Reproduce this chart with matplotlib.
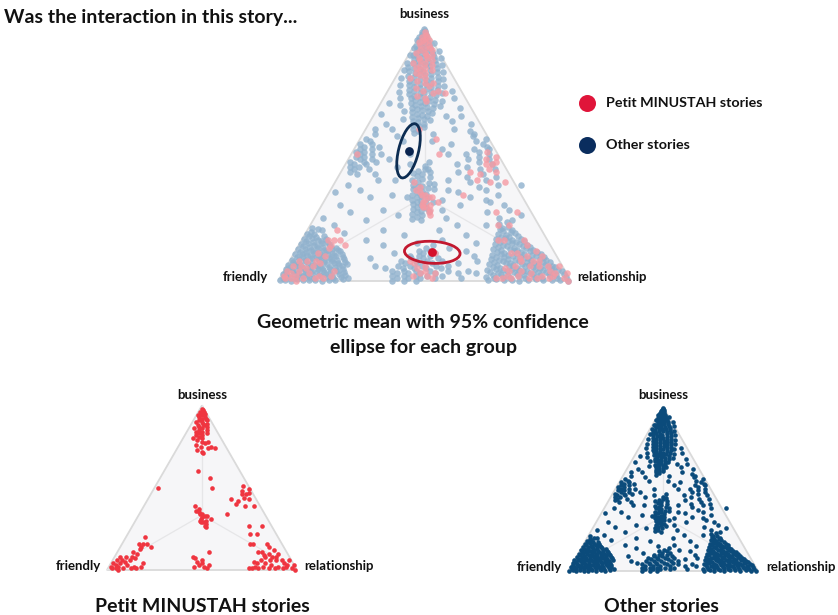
import numpy as np
import matplotlib.pyplot as plt
from matplotlib.patches import Polygon, Ellipse

# ---------------- data: compositions in %, (business, relationship); friendly = 100 - b - r
petit_top = [(98,1),(97,2),(96,1),(96,3),(95,2),(95,4),(94,3),(94,1),(93,5),(93,2),(92,4),(92,6),
             (91,3),(91,7),(90,5),(90,2),(89,6),(89,8),(88,4),(88,7),(87,5),(87,9),(86,3),(86,7),
             (85,6),(85,10),(84,5),(84,8),(83,7),(83,11),(82,6),(82,9),(81,8),(80,5),(80,10),(79,8),
             (78,11),(77,13),(76,9),(75,12),(74,16),(73,11),(72,14),(71,15),(74,20),(75,17),(78,14)]
petit_mid = [(60,18),(56,26),(50,30),(50,2)]
petit_centre = [(39,27),(36,29),(35,31),(34,32),(32,34),(31,34),(33,35),(30,37),(29,36),(28,38),
                (27,38),(30,34),(34,33),(37,30),(33,36),(29,35),(26,39),(31,39)]
petit_right = [(51,46),(49,50),(48,47),(46,50),(44,50),(43,53),(43,44),(42,48),(40,48),(39,58),
               (34,46),(27,61),(27,68),(22,64),(22,68),(16,67),(16,69),(47,51),(46,48),(39,53)]
petit_bottom_mid = [(7,43),(5,45),(4,48),(2,50),(3,52),(11,48),(2,45),(3,47),(6,47),(1,52),(8,41)]
petit_friendly = [(20,10),(16,11),(14,16),(13,11),(10,11),(11,8),(8,9),(8,6),(8,3),(6,2),(4,1),(2,1),
                  (4,5),(3,9),(2,13),(1,15),(2,17),(1,8),(1,12),(1,4),(1,2),(2,5),(5,7),(6,5),(16,9),
                  (16,13),(14,11),(7,11),(6,9),(4,17),(0,6),(3,3)]
petit_relationship = [(11,76),(10,80),(8,83),(8,79),(6,86),(6,89),(2,89),(2,93),(1,97),(0,99),(2,77),
                      (1,79),(1,76),(1,74),(2,81),(1,85),(3,85),(1,88),(1,92),(4,81),(6,83),(8,85),
                      (10,85),(12,82),(14,78),(16,76),(4,91),(3,93),(4,77),(6,78),(9,78),(6,93),(3,97),
                      (5,75),(11,74)]

other_top = [(99.2,0.3),(98.5,0.9),(98.1,0.2),(97.6,1.5),(97.2,0.6),(96.8,2.1),(96.3,1.1),(96.0,0.2),
    (95.7,2.8),(95.4,1.6),(95.0,3.4),(94.6,0.8),(94.3,2.4),(94.0,4.1),(93.6,1.7),(93.3,3.3),(92.9,5.0),
    (92.7,0.9),(92.3,2.6),(92.0,4.4),(91.7,6.1),(91.4,1.8),(91.0,3.5),(90.8,5.3),(90.4,7.2),(90.1,2.4),
    (89.8,4.2),(89.5,8.1),(89.2,6.0),(88.9,1.5),(88.6,3.3),(88.3,9.0),(88.0,5.1),(87.7,7.4),(87.4,2.6),
    (87.1,10.2),(86.8,4.4),(86.5,6.3),(86.2,8.5),(85.9,3.1),(85.6,11.0),(85.3,5.2),(85.0,7.6),(84.7,9.5),
    (84.4,2.3),(84.1,12.1),(83.8,4.6),(83.5,6.8),(83.2,10.4),(82.9,8.2),(82.6,3.5),(82.3,13.0),(82.0,5.7),
    (81.7,11.3),(81.4,7.5),(81.1,9.6),(80.8,4.1),(80.5,14.2),(80.2,6.4),(79.9,12.4),(79.6,8.8),(79.3,10.7),
    (79.0,5.2),(78.7,15.1),(78.4,7.1),(78.1,13.3),(77.8,9.4),(77.5,11.6),(77.2,6.0),(76.9,16.0),(76.6,8.2),
    (76.3,14.0),(76.0,10.3),(75.7,12.5),(75.4,7.0),(75.1,16.8),(74.8,9.1),(74.5,14.9),(74.2,11.2),
    (73.9,13.0),(73.6,8.0),(73.3,17.4),(73.0,10.0),(72.7,15.5),(72.4,12.2),(72.1,9.3),(71.8,14.1),
    (71.5,18.0),(71.2,11.0),(70.9,16.2),(70.6,13.1),(70.3,10.2),(70.0,15.0),(69.6,18.6),(69.3,12.0),
    (69.0,14.3),(68.6,16.7),(68.3,11.6),(68.0,19.0),(67.6,13.6),(67.3,15.4),(67.0,17.6),(66.6,12.5),
    (66.2,19.4),(65.8,14.5),(65.4,16.3),(65.0,18.4),(64.6,13.3),(64.2,15.8),(63.8,17.9),(63.4,20.1),
    (63.0,14.6),(62.5,16.7),(62.0,18.9),(61.5,15.4),(61.0,17.5),(60.5,19.6),(60.0,16.2),(59.3,18.0),
    (58.5,17.0),(93.8,6.3),(90.6,9.8),(87.9,11.8),(85.2,13.4),(82.5,15.0),(79.8,16.5),(77.0,18.0),
    (74.0,19.0),(71.0,20.5),(68.8,21.0),(94.8,0.1),(91.9,0.3),(89.0,0.6),(86.0,1.0),(83.0,1.4),
    (80.0,2.0),(77.4,3.0),(74.6,4.0),(72.0,5.5),(69.5,7.0),(67.0,9.5),(64.0,10.5)]
other_friendly = [(0.2,0.5),(0.4,2.3),(0.1,4.4),(0.6,6.2),(0.3,8.5),(0.2,10.6),(0.5,12.4),(0.1,14.8),
    (0.4,17.1),(0.2,19.5),(0.7,22.0),(1.3,1.2),(1.6,3.4),(1.1,5.6),(1.8,7.5),(1.4,9.8),(1.2,11.7),
    (1.9,13.6),(1.5,16.0),(1.2,18.3),(1.7,20.8),(1.1,23.5),(2.6,0.3),(2.3,2.0),(2.9,4.1),(2.5,6.6),
    (2.2,8.7),(2.8,10.3),(2.4,12.9),(2.7,15.2),(2.3,17.4),(2.9,19.4),(2.5,21.6),(3.5,1.1),(3.8,3.2),
    (3.3,5.3),(3.6,7.8),(3.9,9.6),(3.4,11.5),(3.7,13.9),(3.2,16.3),(3.8,18.5),(3.4,20.9),(4.6,0.4),
    (4.3,2.6),(4.9,4.8),(4.5,6.9),(4.2,8.9),(4.8,11.1),(4.4,13.2),(4.7,15.5),(4.3,17.7),(4.9,19.8),
    (5.5,1.5),(5.8,3.7),(5.2,5.9),(5.6,8.1),(5.9,10.2),(5.3,12.4),(5.7,14.5),(5.4,16.8),(5.8,18.9),
    (6.4,0.2),(6.7,2.4),(6.2,4.6),(6.8,6.7),(6.5,9.0),(6.1,11.3),(6.6,13.4),(6.9,15.8),(6.3,17.6),
    (6.6,20.2),(7.5,1.3),(7.2,3.5),(7.8,5.7),(7.4,7.9),(7.9,10.0),(7.3,12.2),(7.7,14.6),(7.1,16.9),
    (7.6,19.1),(8.4,0.6),(8.7,2.8),(8.2,5.0),(8.9,7.2),(8.5,9.3),(8.1,11.6),(8.6,13.8),(8.3,16.1),
    (8.8,18.2),(9.6,1.7),(9.3,3.9),(9.9,6.1),(9.4,8.4),(9.7,10.6),(9.2,12.9),(9.8,15.0),(9.5,17.3),
    (10.5,0.4),(10.8,2.7),(10.3,4.9),(10.9,7.1),(10.4,9.5),(10.7,11.8),(10.2,14.0),(10.6,16.4),
    (11.6,1.6),(11.3,3.8),(11.9,6.0),(11.4,8.2),(11.8,10.5),(11.2,12.7),(11.7,15.2),(12.5,0.5),
    (12.8,2.9),(12.3,5.1),(12.9,7.3),(12.4,9.6),(12.7,12.0),(12.2,14.4),(13.6,1.8),(13.3,4.0),
    (13.9,6.3),(13.4,8.6),(13.8,11.0),(13.2,13.3),(14.5,0.6),(14.8,3.0),(14.3,5.3),(14.9,7.7),
    (14.4,10.1),(15.6,1.9),(15.3,4.3),(15.9,6.6),(15.4,9.0),(16.5,0.7),(16.8,3.1),(16.3,5.5),(16.7,8.0),
    (17.6,1.8),(17.4,4.2),(17.9,6.7),(18.5,0.5),(18.7,3.0),(19.5,1.6),(20.3,3.5),(21.0,1.2)]
other_relationship = [(0.3,71.5),(0.6,74.2),(0.2,77.0),(0.5,79.6),(0.1,82.3),(0.4,85.1),(0.7,87.8),
    (0.2,90.4),(0.5,93.2),(0.3,96.0),(0.1,98.8),(1.4,70.3),(1.2,73.1),(1.7,75.8),(1.3,78.4),(1.8,81.2),
    (1.1,83.9),(1.6,86.5),(1.3,89.3),(1.9,91.9),(1.2,94.7),(1.5,97.4),(2.5,72.0),(2.8,74.8),(2.3,77.5),
    (2.6,80.2),(2.2,82.9),(2.9,85.6),(2.4,88.2),(2.7,91.0),(2.3,93.7),(2.6,96.3),(3.6,70.6),(3.3,73.4),
    (3.8,76.1),(3.4,78.9),(3.9,81.6),(3.2,84.3),(3.7,86.9),(3.5,89.7),(3.1,92.4),(3.8,95.0),(4.4,69.2),
    (4.7,72.0),(4.2,74.6),(4.8,77.4),(4.5,80.1),(4.1,82.8),(4.6,85.5),(4.3,88.2),(4.9,90.9),(4.4,93.4),
    (5.5,70.5),(5.2,73.3),(5.8,76.0),(5.3,78.8),(5.9,81.5),(5.6,84.2),(5.1,86.8),(5.7,89.6),(5.4,92.0),
    (6.6,68.8),(6.3,71.6),(6.9,74.4),(6.4,77.1),(6.8,79.9),(6.2,82.6),(6.7,85.3),(6.5,88.0),(6.1,90.6),
    (7.4,70.1),(7.7,72.9),(7.2,75.6),(7.8,78.4),(7.5,81.1),(7.1,83.8),(7.6,86.5),(7.3,89.1),(8.5,68.4),
    (8.2,71.2),(8.8,74.0),(8.4,76.7),(8.9,79.5),(8.3,82.2),(8.7,84.9),(8.1,87.5),(9.6,69.6),(9.3,72.4),
    (9.9,75.2),(9.5,77.9),(9.2,80.6),(9.8,83.3),(9.4,86.0),(10.4,67.8),(10.7,70.6),(10.2,73.4),
    (10.8,76.1),(10.5,78.8),(10.1,81.6),(10.6,84.3),(11.5,68.9),(11.2,71.7),(11.8,74.5),(11.4,77.2),
    (11.9,80.0),(11.3,82.7),(12.6,67.2),(12.3,70.0),(12.8,72.8),(12.4,75.5),(12.9,78.3),(12.2,81.0),
    (13.4,68.4),(13.7,71.2),(13.2,74.0),(13.8,76.7),(13.5,79.3),(14.6,66.8),(14.3,69.6),(14.9,72.4),
    (14.5,75.1),(14.1,77.8),(15.5,67.9),(15.8,70.7),(15.3,73.5),(15.7,76.2),(16.4,66.3),(16.8,69.1),
    (16.2,71.9),(16.6,74.6),(17.5,67.4),(17.2,70.2),(17.8,73.0),(18.6,65.8),(18.3,68.6),(18.9,71.3),
    (19.7,66.9),(19.4,69.7),(20.6,65.5),(21.4,67.8),(22.5,64.2),(23.3,66.5)]
other_centre = [(45.2,27.5),(44.1,29.3),(43.4,26.2),(42.8,30.6),(42.0,28.1),(41.3,26.9),(40.9,31.4),
    (40.2,29.0),(39.8,25.8),(39.1,28.3),(38.7,32.2),(38.0,27.1),(37.6,30.4),(37.0,29.2),(36.5,33.0),
    (36.1,27.9),(35.6,31.2),(35.0,30.0),(34.4,33.3),(34.0,28.7),(33.5,32.0),(33.0,30.8),(32.6,34.4),
    (32.1,29.6),(31.7,33.1),(31.2,31.8),(30.8,35.2),(30.2,31.0),(29.8,34.0),(29.3,32.7),(28.8,36.1),
    (28.2,32.0),(27.7,35.0),(27.0,33.8),(26.4,32.5),(25.9,36.3),(25.2,34.7),(24.5,33.6),(23.9,37.0),
    (38.3,34.0),(42.5,24.8),(36.4,35.2),(33.2,27.5),(31.0,37.5),(27.5,37.9)]
other_bottom_mid = [(12,42),(12,46),(11,44),(11,48),(10,40),(10,43),(10,47),(9,41),(9,45),(9,50),(8,38),
                    (8,43),(8,47),(8,52),(7,40),(7,44),(7,49),(6,38),(6,42),(6,46),(6,51),(6,55),(5,40),
                    (5,44),(5,48),(5,53),(4,37),(4,41),(4,45),(4,50),(4,56),(3,39),(3,43),(3,47),(3,52),
                    (2,38),(2,42),(2,46),(2,50),(2,55),(1,40),(1,44),(1,48),(1,53),(0,39),(0,43),(0,47),
                    (13,44),(14,46),(7,58),(3,60),(1,62)]
other_left_mid = [(56,2),(55,4),(54,1),(54,5),(53,3),(52,2),(52,6),(51,4),(51,1),(50,3),(50,7),(49,2),
                  (49,5),(48,4),(48,8),(47,1),(47,6),(46,3),(46,7),(45,2),(45,5),(44,4),(44,9),(43,3),
                  (58,4),(60,3),(53,8),(47,10),(42,6),(50,10)]
other_right_mid = [(55,40),(54,43),(53,45),(52,41),(52,46),(51,43),(50,39),(50,47),(49,44),(48,41),(48,48),
                   (47,45),(46,38),(46,50),(45,42),(44,47),(44,52),(43,40),(42,49),(41,44),(41,54),(40,51),
                   (39,46),(38,56),(37,50),(36,53),(35,44),(34,58),(33,49),(32,55),(57,38),(59,36),(56,43),
                   (30,62),(28,65),(27,58),(25,63),(24,68),(22,60),(21,66),(20,70),(31,57),(26,70)]
other_scatter = [(70,3),(66,2),(62,6),(60,9),(57,12),(55,15),(65,25),(63,28),(60,30),(58,24),(55,25),
                 (52,30),(50,33),(48,14),(45,18),(42,12),(40,20),(38,5),(36,10),(35,2),(33,15),(30,6),
                 (28,22),(27,11),(25,3),(24,18),(22,8),(20,26),(19,13),(18,34),(16,22),(15,40),(14,29),
                 (13,52),(12,58),(11,34),(10,62),(9,27),(8,64),(20,45),(22,50),(18,55),(25,45),(15,60),
                 (28,42),(30,47),(32,40),(65,30),(68,28),(72,24),(75,22),(62,35),(58,38),(54,32),(46,22),
                 (44,28),(40,38),(36,40),(20,5),(34,22),(26,28),(16,48),(6,30),(5,34),(4,63),(3,66),
                 (50,20),(47,28),(40,14),(38,64)]

# geometric means (business, relationship) and 95% ellipse (major, minor as triangle-side fraction, angle)
mean_petit = (11.3, 47.0)
mean_other = (51.3, 18.9)
ellipse_petit = (0.19, 0.075, -3)
ellipse_other = (0.19, 0.068, 76)

axis_labels = ["business", "friendly", "relationship"]
group_names = ["Petit MINUSTAH stories", "Other stories"]

# ---------------- assemble
petit = np.array(petit_top + petit_mid + petit_centre + petit_right + petit_bottom_mid
                 + petit_friendly + petit_relationship, dtype=float)
other = np.array(other_top + other_friendly + other_relationship + other_centre + other_bottom_mid
                 + other_left_mid + other_right_mid + other_scatter, dtype=float)

SQ = np.sqrt(3) / 2

def to_xy(b, r):
    b = np.asarray(b, dtype=float) / 100.0
    r = np.asarray(r, dtype=float) / 100.0
    return r + b / 2, b * SQ

W, H = 838, 615
plt.rcParams['font.family'] = ['Lato', 'DejaVu Sans']
fig = plt.figure(figsize=(W / 100, H / 100), dpi=100)
fig.patch.set_facecolor('white')

def tern_ax(x0, y0, side, pad=0.12):
    ax = fig.add_axes([(x0 - pad * side) / W, (H - y0 - pad * side) / H,
                       (1 + 2 * pad) * side / W, (SQ + 2 * pad) * side / H])
    ax.set_xlim(-pad, 1 + pad)
    ax.set_ylim(-pad, SQ + pad)
    ax.axis('off')
    ax.add_patch(Polygon([[0, 0], [1, 0], [0.5, SQ]], closed=True, facecolor='#f6f6f8',
                         edgecolor='#dadada', lw=1.3, zorder=0))
    cx, cy = 0.5, SQ / 3
    for vx, vy in [(0, 0), (1, 0), (0.5, SQ)]:
        ax.plot([cx, vx], [cy, vy], color='#e6e6e8', lw=0.9, zorder=0.5)
    return ax

def ftext(x, y, s, **kw):
    kw.setdefault('fontweight', 'bold')
    kw.setdefault('color', '#111111')
    fig.text(x / W, 1 - y / H, s, **kw)

# ---------------- top combined panel
ax = tern_ax(278, 281, 293)
ox, oy = to_xy(other[:, 0], other[:, 1])
px, py = to_xy(petit[:, 0], petit[:, 1])
ax.scatter(ox, oy, s=22, color='#8fb1cd', alpha=0.8, lw=0, zorder=2)
ax.scatter(px, py, s=22, color='#f59aa3', alpha=0.8, lw=0, zorder=3)
for mean, ell, col, dcol in [(mean_other, ellipse_other, '#0d2d52', '#0a2550'),
                             (mean_petit, ellipse_petit, '#c2182f', '#d5102b')]:
    mx, my = to_xy(mean[0], mean[1])
    ax.add_patch(Ellipse((mx, my), ell[0], ell[1], angle=ell[2], fill=False, ec=col, lw=2, zorder=5))
    ax.scatter([mx], [my], s=40, color=dcol, zorder=6, lw=0)

ftext(424, 14, axis_labels[0], ha='center', va='center', fontsize=9.5)
ftext(268, 277, axis_labels[1], ha='right', va='center', fontsize=9.5)
ftext(577, 277, axis_labels[2], ha='left', va='center', fontsize=9.5)

# legend
lax = fig.add_axes([0, 0, 1, 1], zorder=10)
lax.set_xlim(0, W)
lax.set_ylim(H, 0)
lax.axis('off')
lax.scatter([587], [103], s=150, color='#e0153a', lw=0)
lax.scatter([587], [145], s=150, color='#0a2d5e', lw=0)
ftext(606, 103, group_names[0], ha='left', va='center', fontsize=10.3)
ftext(606, 145, group_names[1], ha='left', va='center', fontsize=10.3)

ftext(4, 18, "Was the interaction in this story...", ha='left', va='center', fontsize=14)
ftext(423, 323, "Geometric mean with 95% confidence", ha='center', va='center', fontsize=14)
ftext(423, 347, "ellipse for each group", ha='center', va='center', fontsize=14)

# ---------------- bottom-left: Petit MINUSTAH
ax1 = tern_ax(107, 570, 190)
ax1.scatter(px, py, s=11, color='#ef3540', lw=0, zorder=3)
ftext(202, 395, axis_labels[0], ha='center', va='center', fontsize=9.5)
ftext(101, 566, axis_labels[1], ha='right', va='center', fontsize=9.5)
ftext(304, 566, axis_labels[2], ha='left', va='center', fontsize=9.5)
ftext(202, 606, group_names[0], ha='center', va='center', fontsize=14)

# ---------------- bottom-right: Other stories
ax2 = tern_ax(568, 571, 190)
ax2.scatter(ox, oy, s=11, color='#0b4b7b', lw=0, zorder=3)
ftext(663, 395, axis_labels[0], ha='center', va='center', fontsize=9.5)
ftext(562, 567, axis_labels[1], ha='right', va='center', fontsize=9.5)
ftext(766, 567, axis_labels[2], ha='left', va='center', fontsize=9.5)
ftext(661, 606, group_names[1], ha='center', va='center', fontsize=14)

fig.savefig('out.png', dpi=100, facecolor='white')
